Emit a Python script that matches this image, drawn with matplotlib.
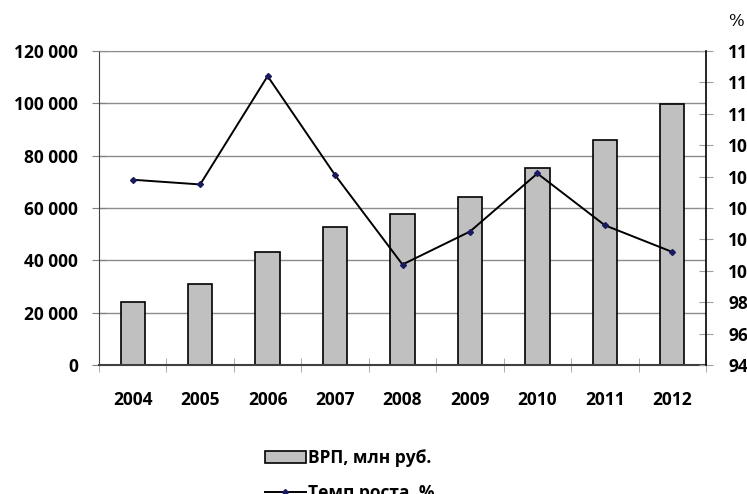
import numpy as np
import matplotlib.pyplot as plt
from matplotlib.ticker import FixedLocator, FuncFormatter
from matplotlib.patches import Patch
from matplotlib.lines import Line2D

# data
years = ['2004', '2005', '2006', '2007', '2008', '2009', '2010', '2011', '2012']
vrp = [24200, 31100, 43300, 52700, 57700, 64100, 75400, 86000, 99900]
growth = [105.8, 105.5, 112.4, 106.1, 100.4, 102.5, 106.2, 102.9, 101.2]
left_ticks = [0, 20000, 40000, 60000, 80000, 100000, 120000]
right_ticks = [94, 96, 98, 100, 102, 104, 106, 108, 110, 112, 114]

plt.rcParams['font.family'] = ['Open Sans', 'DejaVu Sans']
plt.rcParams['font.weight'] = 'bold'
fs = 12.5

fig = plt.figure(figsize=(7.47, 4.94), dpi=100)
ax = fig.add_axes([99/747, 1 - 365/494, (706 - 99)/747, (365 - 51)/494])

x = np.arange(len(years))
ax.bar(x, vrp, width=0.36, color='#c0c0c0', edgecolor='black', linewidth=1.2, zorder=2)
ax.set_xlim(-0.5, len(years) - 0.5)
ax.set_ylim(0, 120000)
ax.yaxis.set_major_locator(FixedLocator(left_ticks))
ax.yaxis.set_major_formatter(FuncFormatter(lambda v, p: f'{int(v):,}'.replace(',', ' ')))
ax.grid(axis='y', color='#8c8c8c', linewidth=1, zorder=0)
ax.set_xticks(x)
ax.set_xticklabels(years)
ax.set_xticks(np.arange(len(years) + 1) - 0.5, minor=True)
ax.tick_params(axis='x', which='major', length=0, pad=19, labelsize=fs)
ax.tick_params(axis='x', which='minor', direction='inout', length=10, color='#a0a0a0')
ax.tick_params(axis='y', direction='inout', length=10, color='#808080', pad=10, labelsize=fs)

ax.spines['top'].set_color('#8c8c8c')
ax.spines['left'].set_color('#404040')
ax.spines['bottom'].set_color('#404040')
ax.spines['bottom'].set_linewidth(1.5)
ax.spines['right'].set_visible(False)

ax2 = ax.twinx()
ax2.plot(x, growth, color='black', linewidth=1.4, marker='D', markersize=3,
         markerfacecolor='#1a1a5e', markeredgecolor='#1a1a5e', zorder=3)
ax2.set_ylim(94, 114)
ax2.yaxis.set_major_locator(FixedLocator(right_ticks))
ax2.tick_params(axis='y', direction='inout', length=10, color='#a0a0a0', pad=11, labelsize=fs)
ax2.spines['right'].set_color('black')
ax2.spines['right'].set_linewidth(1.2)
for s in ['top', 'left', 'bottom']:
    ax2.spines[s].set_visible(False)

fig.text(736/747, 1 - 22/494, '%', family='DejaVu Serif', fontweight='normal',
         fontsize=12, ha='center', va='center')

handles = [Patch(facecolor='#c0c0c0', edgecolor='black', linewidth=1.2),
           Line2D([0], [0], color='black', linewidth=1.4, marker='D', markersize=3,
                  markerfacecolor='#1a1a5e', markeredgecolor='#1a1a5e')]
fig.legend(handles, ['ВРП, млн руб.', 'Темп роста, %'], loc='upper left',
           bbox_to_anchor=(265/747, 1 - 449/494), frameon=False, fontsize=fs,
           borderpad=0, borderaxespad=0, handlelength=2.35, handleheight=0.75,
           handletextpad=0.15, labelspacing=1.0)

fig.savefig('out.png', dpi=100)
